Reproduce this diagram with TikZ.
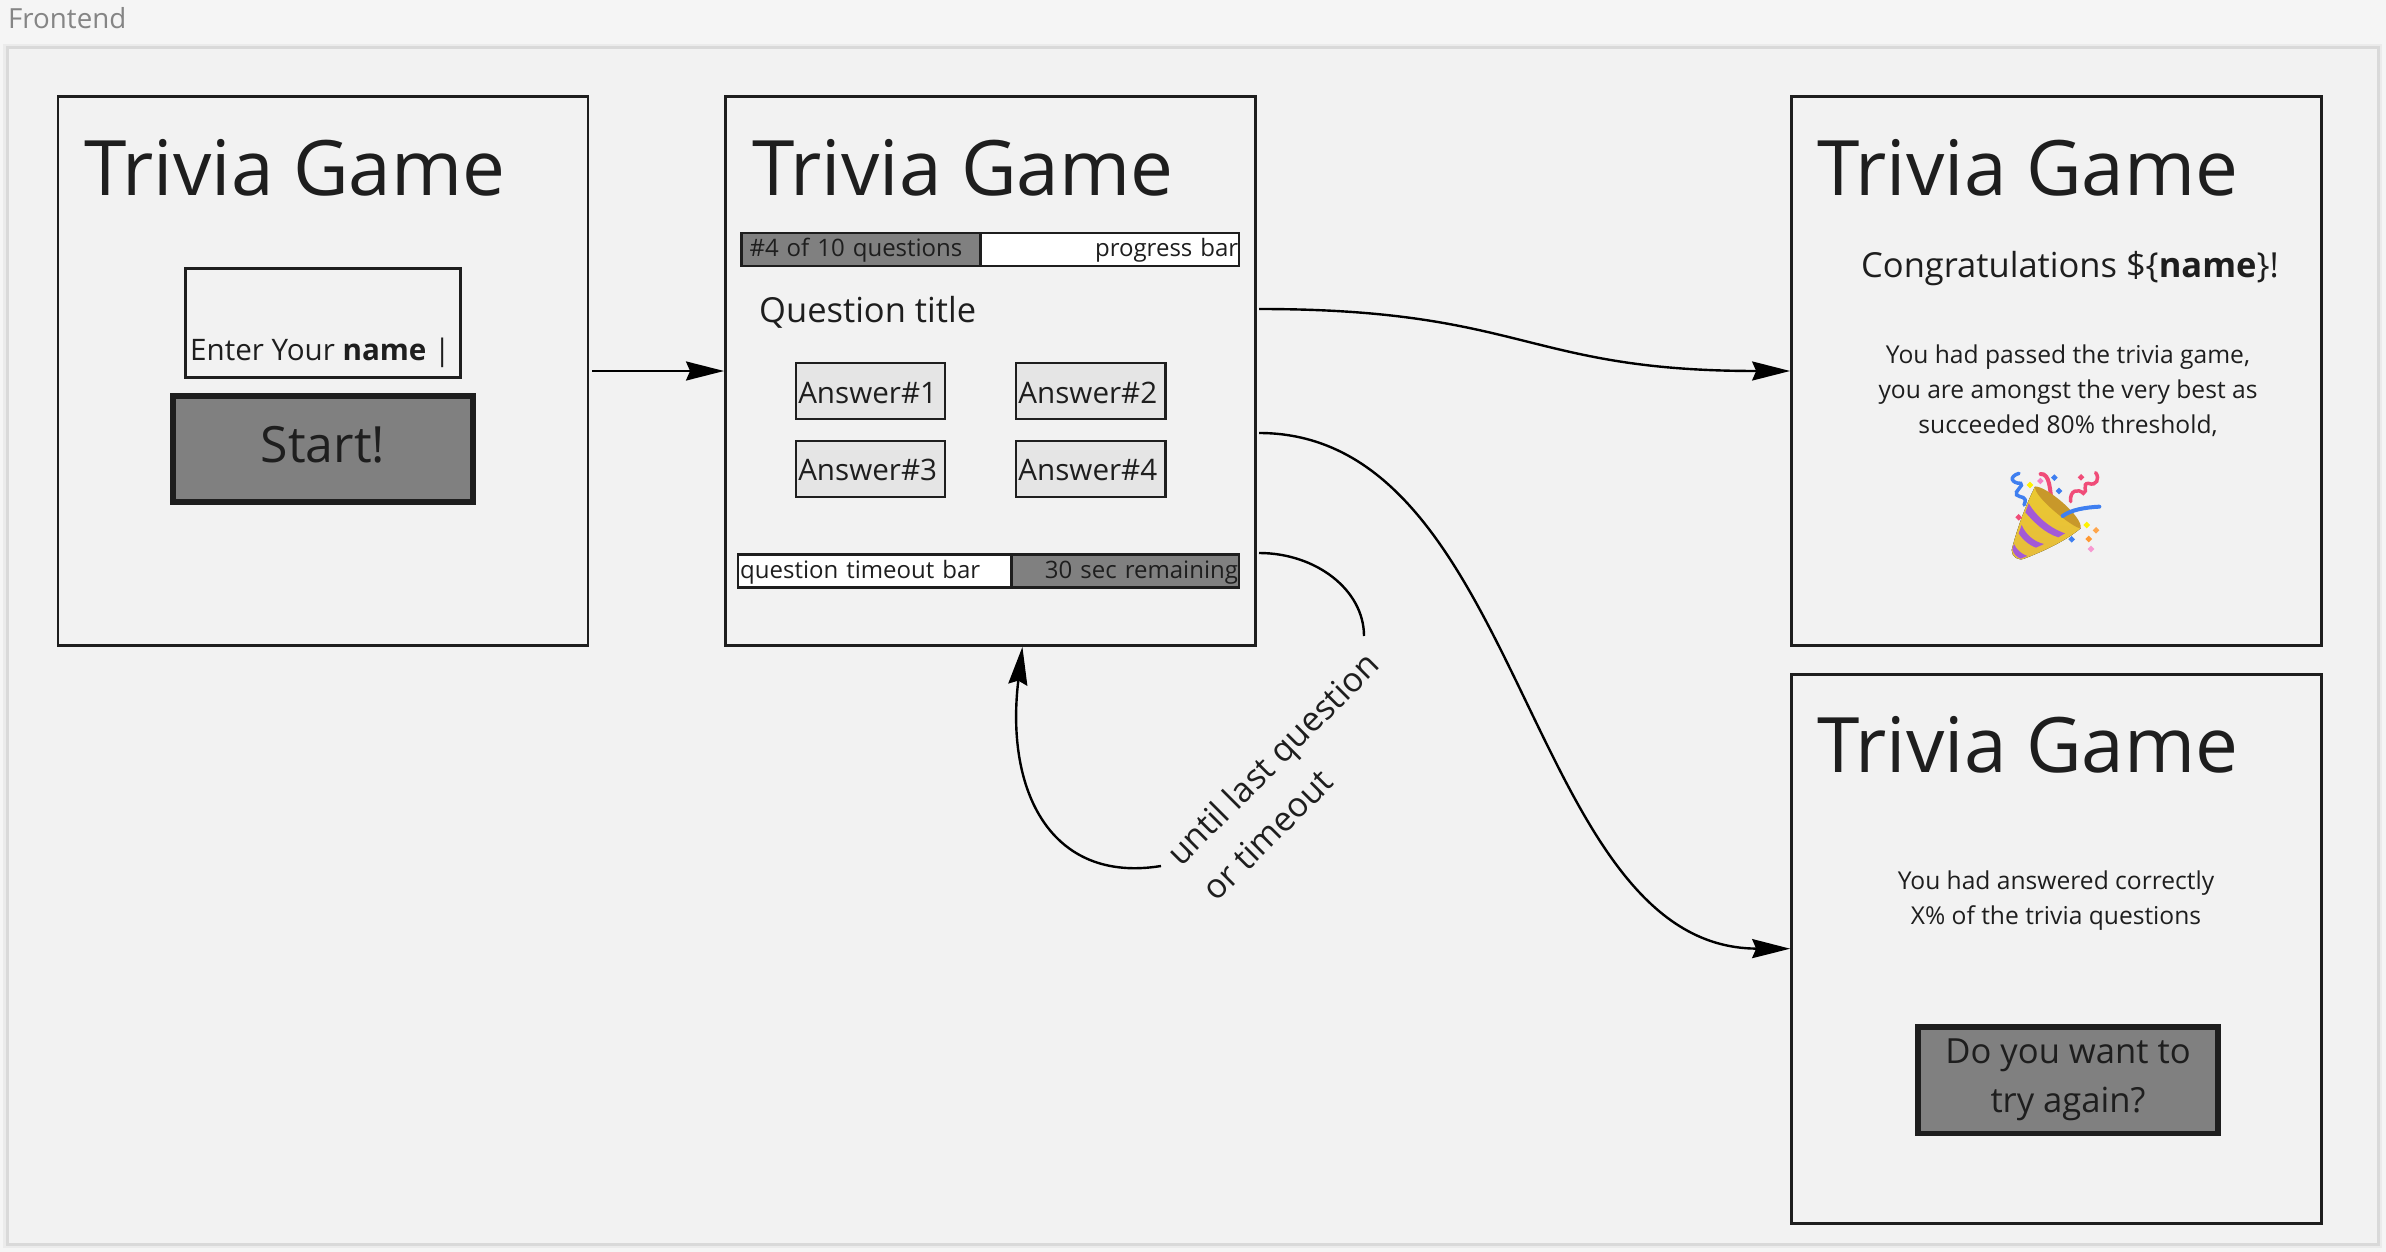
\documentclass[tikz,border=0pt]{standalone}
\usepackage{fontspec}
\setmainfont{Open Sans}
\usepackage{tikz}
\usetikzlibrary{arrows.meta, positioning}
\definecolor{ink}{HTML}{1E1E1E}
\definecolor{sheet}{HTML}{F2F2F2}
\definecolor{shade}{HTML}{808080}
\definecolor{gold}{HTML}{E6BC3C}
\definecolor{golddark}{HTML}{C8982A}
\definecolor{stripe}{HTML}{A35AD6}
\definecolor{ribbon}{HTML}{3F7FF0}
\definecolor{streamer}{HTML}{F04C78}
\newcommand{\px}[2]{\fontsize{#1pt}{#2pt}\selectfont}

\begin{document}
\begin{tikzpicture}[
    x=1pt, y=-1pt,
    screen/.style={draw=ink, line width=2.7pt, minimum width=530pt, minimum height=549pt, inner sep=0pt},
    heading/.style={anchor=base west, inner sep=0pt, text=ink, font=\px{76.5}{90}},
    button/.style={draw=ink, line width=5.5pt, fill=shade, inner sep=0pt, text=ink},
    answer/.style={draw=ink, line width=2.2pt, fill=black!10, minimum width=149.5pt, minimum height=56pt, inner sep=0pt, text=ink, font=\px{29.6}{36}, text width=144.5pt, align=left, text height=24pt, text depth=0pt},
    bar/.style={draw=ink, line width=2.2pt, minimum height=33pt, inner sep=0pt, outer sep=0pt, text=ink, font=\px{24}{30}, text height=20pt, text depth=5pt},
    body/.style={inner sep=0pt, text=ink, font=\px{24.6}{35}, align=center},
    flow/.style={-{Stealth[length=38pt, width=19pt, inset=4pt]}, line width=2.4pt, black}
]
    \useasboundingbox (0,0) rectangle (2386,1252);
    \fill[black!4] (0,0) rectangle (2386,1252);
    \draw[black!8, line width=8pt] (7,48) rectangle (2378,1244);
    \draw[black!15, line width=3pt, fill=sheet] (7,48) rectangle (2378,1244);
    \node[anchor=base west, inner sep=0pt, text=black!48, font=\px{27.7}{34}] (frontend) at (8,29) {Frontend};

    % the four screens
    \node[screen] (namescreen) at (323,371) {};
    \node[screen, right=134.7pt of namescreen] (quizscreen) {};
    \node[screen, right=533.4pt of quizscreen] (passscreen) {};
    \node[screen, below=26pt of passscreen] (failscreen) {};

    \node[heading] (title1) at (84,196) {Trivia Game};
    \node[heading] (title2) at (752,196) {Trivia Game};
    \node[heading] (title3) at (1817,196) {Trivia Game};
    \node[heading] (title4) at (1817,772) {Trivia Game};

    % name screen
    \node[draw=ink, line width=2.2pt, minimum width=275pt, minimum height=109pt, inner sep=0pt] (namefield) at (323,323) {};
    \node[anchor=base west, inner sep=0pt, text=ink, font=\px{29.6}{36}] (nameprompt) at (190,360) {Enter Your \textbf{name} |};
    \node[button, minimum width=300pt, minimum height=106pt, font=\px{50}{60}, text height=36pt, text depth=10pt] (start) at (323,449) {Start!};

    % question screen
    \node[bar, fill=shade, minimum width=239pt, text width=223pt, align=left] (progressdone) at (861,249.5) {\#4 of 10 questions};
    \node[bar, fill=white, right=0pt of progressdone, minimum width=258.5pt, text width=257pt, align=right] (progressrest) {progress bar};
    \node[anchor=base west, inner sep=0pt, text=ink, font=\px{34.5}{40}] (qtitle) at (759,322) {Question title};
    \node[answer] (ans1) at (870.5,391) {Answer\#1};
    \node[answer, right=68.5pt of ans1] (ans2) {Answer\#2};
    \node[answer, below=19.5pt of ans1] (ans3) {Answer\#3};
    \node[answer, right=68.5pt of ans3] (ans4) {Answer\#4};
    \node[bar, fill=white, minimum width=273.5pt, text width=269pt, align=left] (timeoutrest) at (874.7,571) {question timeout bar};
    \node[bar, fill=shade, right=0pt of timeoutrest, minimum width=227.5pt, text width=225.5pt, align=right] (timeoutleft) {30 sec remaining};

    % passed screen
    \node[anchor=base, inner sep=0pt, text=ink, font=\px{34.5}{42}] (congrats) at (2070,277) {Congratulations \$\{\textbf{name}\}!};
    \node[body] (passtext) at (2068,391) {You had passed the trivia game,\\you are amongst the very best as\\succeeded 80\% threshold,};
    \begin{scope}[shift={(1950,450)}, scale=0.3333]
        \draw[ribbon, line width=3.5pt, line cap=round] (207,70) .. controls (175,80) and (185,100) .. (212,100) .. controls (225,105) and (190,125) .. (200,135) .. controls (210,145) and (235,135) .. (222,165);
        \draw[streamer, line width=4pt, line cap=round] (272,72) .. controls (300,70) and (300,120) .. (306,165);
        \draw[streamer, line width=3.5pt, line cap=round] (362,155) .. controls (358,120) and (385,115) .. (400,130) .. controls (415,125) and (395,100) .. (415,100) .. controls (440,110) and (450,85) .. (437,68);
        \fill[top color=gold!80!yellow, bottom color=gold] (255,110) .. controls (225,170) and (200,240) .. (185,300) .. controls (185,320) and (205,335) .. (225,325) .. controls (290,300) and (350,270) .. (392,235) -- cycle;
        \fill[golddark] (255,110) .. controls (285,105) and (400,200) .. (392,235) .. controls (370,235) and (250,140) .. (255,110) -- cycle;
        \fill[stripe] (236,160) .. controls (260,200) and (300,235) .. (345,250) -- (325,262) .. controls (285,250) and (250,215) .. (226,187) -- cycle;
        \fill[stripe] (215,225) .. controls (225,250) and (250,275) .. (282,282) -- (258,293) .. controls (235,285) and (215,265) .. (206,250) -- cycle;
        \fill[stripe] (192,282) .. controls (200,300) and (215,312) .. (232,318) -- (212,326) .. controls (200,322) and (190,310) .. (187,298) -- cycle;
        \draw[ribbon, line width=4pt, line cap=round] (338,198) .. controls (365,178) and (410,172) .. (448,170);
        \foreach \cx/\cy/\ccol in {240/105/yellow, 271/93/magenta!50, 313/83/ribbon, 327/123/ribbon, 393/82/streamer, 206/202/streamer, 410/225/yellow, 438/241/orange!70, 416/267/orange!80, 365/268/ribbon, 423/297/magenta!40} {
            \fill[\ccol] (\cx-10,\cy) -- (\cx,\cy-10) -- (\cx+10,\cy) -- (\cx,\cy+10) -- cycle;
        }
    \end{scope}

    % failed screen
    \node[body] (failtext) at (2056,901) {You had answered correctly\\X\% of the trivia questions};
    \node[button, minimum width=300pt, minimum height=106.5pt, font=\px{34.6}{49.5}, align=center] (retry) at (2068,1080) {Do you want to\\try again?};

    % connectors
    \coordinate (toPass) at (1259,309);
    \coordinate (toFail) at (1259,433);
    \coordinate (toLoop) at (1259,553);
    \coordinate (loopIn) at (1364,636);
    \coordinate (loopOut) at (1161,866);
    \node[rotate=45, inner sep=0pt, text=ink, font=\px{34}{50}, align=left] (looplabel) at (1290,776) {until last question\\or timeout};

    \draw[flow, shorten <=3pt] (namescreen.east) -- (quizscreen.west);
    \draw[flow] (toPass) .. controls (1525,309) and (1525,371) .. (passscreen.west);
    \draw[flow] (toFail) .. controls (1525,433) and (1525,948) .. (failscreen.west);
    \draw[line width=2.4pt] (toLoop) .. controls (1316,553) and (1364,590) .. (loopIn);
    \draw[flow] (loopOut) .. controls (1050,884) and (1005,790) .. ([xshift=32pt]quizscreen.south);
\end{tikzpicture}
\end{document}
